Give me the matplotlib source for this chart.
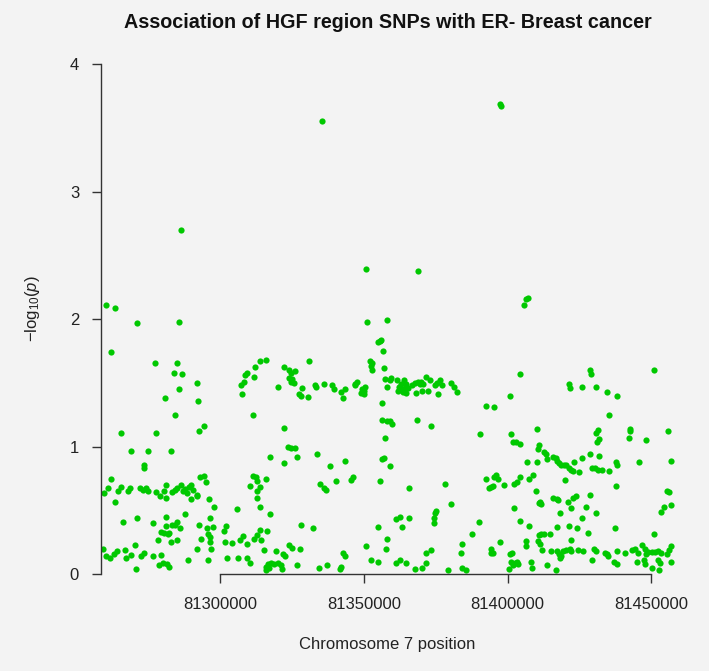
import numpy as np
import matplotlib
matplotlib.use('Agg')
import matplotlib.pyplot as plt

plt.rcParams['font.family'] = ['Liberation Sans', 'DejaVu Sans']
plt.rcParams['mathtext.fontset'] = 'custom'
plt.rcParams['mathtext.rm'] = 'Liberation Sans'
plt.rcParams['mathtext.it'] = 'Liberation Sans:italic'

# (position in kb on chr7, -log10 p), grouped by region
snps_left = [
    (81286.1, 2.70), (81260.2, 2.11), (81263.1, 2.09), (81271.0, 1.97), (81285.7, 1.98),
    (81261.9, 1.74), (81277.1, 1.66), (81284.7, 1.66), (81283.9, 1.58), (81286.5, 1.57),
    (81291.9, 1.50), (81285.7, 1.45), (81280.6, 1.38), (81292.2, 1.36), (81284.3, 1.25),
    (81294.4, 1.16), (81292.6, 1.12), (81265.3, 1.11), (81277.7, 1.11), (81268.9, 0.97),
    (81274.9, 0.97), (81282.8, 0.97), (81273.5, 0.86), (81273.3, 0.83), (81261.9, 0.745),
    (81293.0, 0.76), (81294.4, 0.77), (81294.8, 0.72),
    (81259.6, 0.64), (81260.7, 0.675), (81264.2, 0.65), (81265.2, 0.685), (81267.7, 0.655),
    (81268.4, 0.68), (81272.1, 0.675), (81272.9, 0.66), (81274.1, 0.68), (81274.7, 0.65),
    (81277.4, 0.645), (81278.8, 0.61), (81280.5, 0.655), (81281.1, 0.70), (81283.0, 0.645),
    (81284.0, 0.66), (81284.9, 0.675), (81286.1, 0.70), (81286.9, 0.655), (81287.7, 0.665),
    (81288.4, 0.64), (81289.2, 0.685), (81289.8, 0.70), (81290.3, 0.66), (81291.9, 0.62),
    (81263.4, 0.57), (81281.1, 0.60), (81289.8, 0.59), (81291.7, 0.61), (81295.9, 0.59),
    (81297.7, 0.53), (81305.6, 0.51),
    (81266.0, 0.41), (81271.0, 0.44), (81276.4, 0.40), (81281.1, 0.45), (81281.1, 0.38),
    (81283.2, 0.385), (81284.0, 0.39), (81284.9, 0.41), (81285.8, 0.36), (81287.5, 0.47),
    (81279.3, 0.33), (81280.5, 0.32), (81281.6, 0.315), (81282.2, 0.32), (81278.2, 0.27),
    (81282.8, 0.255), (81284.7, 0.27), (81292.6, 0.39), (81293.3, 0.28), (81295.4, 0.36),
    (81297.3, 0.37), (81295.8, 0.315), (81296.5, 0.295), (81296.2, 0.25), (81296.8, 0.20),
    (81291.9, 0.195), (81296.5, 0.44), (81302.0, 0.38), (81301.1, 0.34), (81301.6, 0.25),
    (81304.1, 0.245), (81306.7, 0.27), (81308.0, 0.30),
    (81259.0, 0.20), (81260.2, 0.14), (81261.7, 0.13), (81262.8, 0.16), (81264.0, 0.18),
    (81266.6, 0.19), (81267.1, 0.13), (81268.9, 0.155), (81270.3, 0.23), (81272.4, 0.14),
    (81273.5, 0.165), (81276.4, 0.145), (81279.3, 0.15), (81278.7, 0.07), (81279.9, 0.09),
    (81281.4, 0.08), (81281.9, 0.06), (81270.6, 0.04), (81288.6, 0.115), (81295.6, 0.11),
    (81302.3, 0.13), (81306.0, 0.13),
]

snps_mid = [
    (81335.2, 3.55), (81350.5, 2.39), (81368.6, 2.375), (81397.2, 3.69), (81397.5, 3.67),
    (81351.1, 1.98), (81357.8, 1.99), (81355.4, 1.83), (81355.8, 1.84), (81354.9, 1.82),
    (81356.5, 1.75), (81351.9, 1.67), (81352.9, 1.66), (81352.5, 1.63), (81352.7, 1.60),
    (81356.9, 1.62), (81357.4, 1.53), (81358.1, 1.47), (81358.9, 1.52), (81356.2, 1.34),
    (81307.2, 1.48), (81307.6, 1.41), (81308.3, 1.51), (81308.7, 1.565), (81309.4, 1.575),
    (81311.6, 1.55), (81312.0, 1.625), (81313.8, 1.675), (81315.9, 1.68), (81322.1, 1.625),
    (81330.7, 1.67), (81320.0, 1.47), (81323.8, 1.60), (81324.6, 1.58), (81326.0, 1.59),
    (81324.0, 1.54), (81325.0, 1.53), (81325.5, 1.50), (81324.6, 1.51), (81328.5, 1.46),
    (81327.5, 1.41), (81328.1, 1.40), (81330.4, 1.39), (81332.9, 1.48), (81333.3, 1.47),
    (81336.1, 1.49), (81338.9, 1.48), (81339.5, 1.455), (81341.8, 1.43), (81343.3, 1.45),
    (81342.8, 1.38), (81346.7, 1.49), (81347.5, 1.505), (81347.0, 1.48), (81349.2, 1.455),
    (81349.8, 1.44), (81349.0, 1.42), (81349.8, 1.41), (81350.3, 1.47),
    (81311.3, 1.245), (81322.1, 1.15), (81323.4, 1.00), (81324.6, 0.99), (81325.8, 0.99),
    (81317.4, 0.92), (81322.1, 0.875), (81326.7, 0.92), (81333.5, 0.94), (81338.2, 0.85),
    (81343.3, 0.89), (81311.3, 0.77), (81312.2, 0.765), (81312.6, 0.735), (81315.7, 0.75),
    (81310.3, 0.695), (81313.8, 0.685), (81312.6, 0.655), (81312.6, 0.60), (81313.8, 0.53),
    (81317.4, 0.47), (81334.8, 0.71), (81336.0, 0.68), (81336.6, 0.66), (81340.1, 0.73),
    (81345.3, 0.74), (81346.1, 0.76), (81356.3, 1.21), (81358.0, 1.20), (81357.2, 1.065),
    (81356.3, 0.90), (81356.8, 0.91), (81355.4, 0.73), (81328.1, 0.39), (81332.2, 0.36),
    (81309.2, 0.24), (81311.6, 0.28), (81312.6, 0.31), (81313.8, 0.35), (81314.2, 0.27),
    (81316.1, 0.34), (81315.0, 0.19), (81319.2, 0.18), (81321.7, 0.16), (81322.3, 0.14),
    (81324.0, 0.23), (81325.0, 0.205), (81327.8, 0.20), (81309.2, 0.13), (81310.1, 0.085),
    (81315.7, 0.06), (81316.5, 0.08), (81317.7, 0.09), (81318.5, 0.08), (81316.8, 0.05),
    (81320.0, 0.09), (81321.1, 0.07), (81321.5, 0.04), (81315.9, 0.035), (81326.7, 0.07),
    (81334.2, 0.05), (81337.2, 0.075), (81341.5, 0.045), (81342.0, 0.06), (81342.8, 0.17),
    (81343.5, 0.14), (81350.5, 0.22), (81352.3, 0.11), (81354.8, 0.095), (81354.8, 0.37),
    (81357.8, 0.28), (81357.7, 0.195),
]

snps_centre = [
    (81359.5, 1.54), (81361.4, 1.52), (81362.1, 1.47), (81363.0, 1.49), (81363.8, 1.525),
    (81364.5, 1.49), (81365.3, 1.46), (81366.8, 1.48), (81367.6, 1.50), (81368.7, 1.51),
    (81369.9, 1.51), (81370.5, 1.49), (81371.4, 1.55), (81372.8, 1.525), (81374.6, 1.48),
    (81375.4, 1.50), (81376.3, 1.52), (81377.2, 1.48), (81380.4, 1.50), (81381.2, 1.47),
    (81382.3, 1.43), (81361.8, 1.44), (81363.5, 1.43), (81364.7, 1.42), (81368.2, 1.42),
    (81370.3, 1.44), (81372.2, 1.435), (81375.7, 1.41), (81362.4, 1.46), (81364.1, 1.46),
    (81369.3, 1.49),
    (81405.6, 2.11), (81406.2, 2.16), (81407.1, 2.165), (81404.2, 1.57), (81400.7, 1.40),
    (81392.3, 1.32), (81395.1, 1.31), (81359.1, 1.20), (81359.7, 1.18), (81368.5, 1.21),
    (81373.2, 1.16), (81358.9, 0.85), (81365.6, 0.68), (81378.3, 0.71), (81390.5, 1.10),
    (81401.3, 1.10), (81401.8, 1.04), (81402.8, 1.04), (81404.4, 1.02), (81406.7, 0.88),
    (81392.6, 0.75), (81395.1, 0.76), (81396.0, 0.78), (81396.6, 0.745), (81393.5, 0.68),
    (81394.3, 0.685), (81394.9, 0.69), (81398.7, 0.70), (81402.3, 0.71), (81403.4, 0.72),
    (81404.4, 0.76), (81407.3, 0.75), (81380.4, 0.55), (81374.9, 0.50), (81374.6, 0.48),
    (81374.3, 0.44), (81374.2, 0.40), (81361.2, 0.43), (81362.4, 0.45), (81365.6, 0.445),
    (81363.3, 0.37), (81390.0, 0.41), (81402.3, 0.52), (81404.2, 0.42), (81407.3, 0.38),
    (81387.7, 0.315), (81384.2, 0.24), (81383.9, 0.17), (81394.3, 0.20), (81394.9, 0.17),
    (81394.1, 0.165), (81397.3, 0.25), (81371.4, 0.17), (81373.2, 0.19), (81361.0, 0.09),
    (81362.4, 0.11), (81364.5, 0.085), (81371.7, 0.09), (81367.8, 0.04), (81370.3, 0.05),
    (81379.2, 0.035), (81384.2, 0.05), (81385.4, 0.035), (81406.5, 0.26), (81406.2, 0.22),
    (81400.9, 0.16), (81401.6, 0.17), (81401.3, 0.10), (81402.4, 0.085), (81403.4, 0.10),
    (81401.8, 0.07), (81400.4, 0.04), (81403.6, 0.08),
]

snps_right = [
    (81428.6, 1.60), (81429.1, 1.57), (81450.9, 1.60), (81421.3, 1.49), (81421.8, 1.46),
    (81426.0, 1.47), (81430.6, 1.47), (81434.4, 1.43), (81437.9, 1.40), (81435.3, 1.25),
    (81410.2, 1.14), (81431.6, 1.13), (81430.9, 1.11), (81431.7, 1.06), (81431.2, 1.04),
    (81442.5, 1.14), (81442.7, 1.12), (81442.3, 1.065), (81448.0, 1.05), (81455.8, 1.12),
    (81410.9, 1.01), (81410.5, 0.98), (81412.5, 0.96), (81413.2, 0.94), (81410.2, 0.88),
    (81413.8, 0.90), (81415.8, 0.92), (81416.7, 0.91), (81417.2, 0.89), (81417.9, 0.875),
    (81418.7, 0.86), (81419.6, 0.855), (81420.4, 0.855), (81421.3, 0.835), (81422.2, 0.82),
    (81422.7, 0.81), (81424.8, 0.805), (81423.1, 0.88), (81425.7, 0.91), (81428.8, 0.945),
    (81431.7, 0.93), (81429.5, 0.835), (81430.3, 0.83), (81431.4, 0.82), (81433.0, 0.82),
    (81435.3, 0.81), (81437.6, 0.88), (81438.2, 0.86), (81445.7, 0.88), (81457.0, 0.89),
    (81419.8, 0.74), (81437.6, 0.69), (81408.8, 0.78), (81409.7, 0.65), (81415.8, 0.60),
    (81417.0, 0.59), (81417.5, 0.58), (81422.7, 0.60), (81423.7, 0.61), (81428.6, 0.62),
    (81410.9, 0.56), (81411.7, 0.55), (81411.4, 0.57), (81421.0, 0.565), (81422.2, 0.52),
    (81427.4, 0.53), (81418.1, 0.48), (81430.6, 0.48), (81425.7, 0.44), (81455.3, 0.65),
    (81456.2, 0.645), (81454.3, 0.53), (81457.0, 0.54), (81453.2, 0.485), (81421.3, 0.38),
    (81424.1, 0.36), (81417.0, 0.37), (81428.0, 0.325), (81437.5, 0.36), (81450.9, 0.315),
    (81410.9, 0.31), (81411.7, 0.315), (81412.5, 0.315), (81414.9, 0.315), (81410.5, 0.26),
    (81411.4, 0.24), (81422.2, 0.27), (81412.1, 0.19), (81415.2, 0.18), (81417.3, 0.185),
    (81417.9, 0.16), (81418.7, 0.145), (81418.1, 0.13), (81419.3, 0.18), (81420.4, 0.19),
    (81421.6, 0.20), (81422.2, 0.18), (81424.5, 0.19), (81426.2, 0.185), (81430.0, 0.20),
    (81430.9, 0.185), (81429.5, 0.11), (81433.8, 0.17), (81434.6, 0.16), (81434.9, 0.145),
    (81438.2, 0.18), (81440.8, 0.17), (81443.4, 0.19), (81444.2, 0.20), (81445.4, 0.17),
    (81446.8, 0.23), (81447.7, 0.20), (81448.1, 0.16), (81448.9, 0.175), (81450.1, 0.175),
    (81451.2, 0.175), (81452.4, 0.185), (81453.5, 0.17), (81456.2, 0.19), (81457.0, 0.22),
    (81455.3, 0.16), (81408.0, 0.094), (81408.6, 0.05), (81413.8, 0.075), (81416.7, 0.037),
    (81436.9, 0.094), (81438.2, 0.08), (81445.0, 0.094), (81447.4, 0.11), (81447.7, 0.08),
    (81450.4, 0.05), (81452.7, 0.035), (81452.3, 0.11), (81452.9, 0.09), (81457.0, 0.094),
]

xticks = [81300000, 81350000, 81400000, 81450000]
yticks = [0, 1, 2, 3, 4]
title = "Association of HGF region SNPs with ER- Breast cancer"
xlab = "Chromosome 7 position"

bg = '#f3f3f3'
pts = np.array(snps_left + snps_mid + snps_centre + snps_right)
pos = pts[:, 0] * 1000
logp = pts[:, 1]

W, H = 709, 671
fig = plt.figure(figsize=(W / 100, H / 100), dpi=100, facecolor=bg)
x0, x1, y_top, y_bot = 101.3, 674.0, 64.0, 574.3
ax = fig.add_axes([x0 / W, 1 - y_bot / H, (x1 - x0) / W, (y_bot - y_top) / H])
ax.set_facecolor(bg)

ax.scatter(pos, logp, s=20, c='#00c800', linewidths=0)

ax.set_xlim(81258500, 81457900)
ax.set_ylim(0, 4)
for s in ['top', 'right']:
    ax.spines[s].set_visible(False)
ax.spines['left'].set_bounds(0, 4)
ax.spines['bottom'].set_bounds(xticks[0], xticks[-1])
for s in ['left', 'bottom']:
    ax.spines[s].set_color('#333333')
    ax.spines[s].set_linewidth(1.0)

ax.set_xticks(xticks)
ax.set_xticklabels([str(t) for t in xticks])
ax.set_yticks(yticks)
ax.set_yticklabels([str(t) for t in yticks])
ax.tick_params(axis='both', direction='out', length=6.5, width=1.0, color='#333333',
               labelsize=12, labelcolor='#222222')
ax.tick_params(axis='x', pad=10)
ax.tick_params(axis='y', pad=9.5)

cx = (x0 + x1) / 2
fig.text(cx / W, 1 - 22 / H, title, ha='center', va='center', fontsize=14.2,
         fontweight='bold', color='#111111')
fig.text(cx / W, 1 - 645 / H, xlab, ha='center', va='center', fontsize=12, color='#222222')
fig.text(32 / W, 1 - 309 / H, r'$\mathrm{-log}_{10}(\mathit{p})$',
         ha='center', va='center', rotation=90, fontsize=12, color='#222222')

fig.savefig('out.png', dpi=100, facecolor=bg)
